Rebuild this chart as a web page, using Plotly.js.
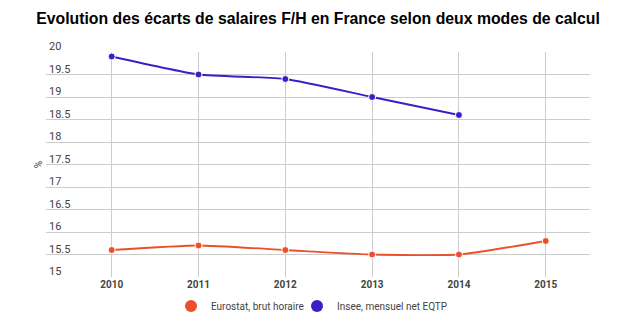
<!DOCTYPE html>
<html><head><meta charset="utf-8">
<script src="https://cdn.plot.ly/plotly-3.0.1.min.js"></script>
<style>html,body{margin:0;padding:0;background:#fff}#c{width:622px;height:330px}</style>
</head><body><div id="c"></div>
<script>
const years = [2010, 2011, 2012, 2013, 2014, 2015];
const eurostat = [15.6, 15.7, 15.6, 15.5, 15.5, 15.8];
const insee = [19.9, 19.5, 19.4, 19.0, 18.6, null];
const seriesNames = ['Eurostat, brut horaire', 'Insee, mensuel net EQTP'];
const colors = ['#ea5129', '#3a1ec6'];
const yTicks = [15, 15.5, 16, 16.5, 17, 17.5, 18, 18.5, 19, 19.5, 20];

const data = [];
[eurostat, insee].forEach((vals, i) => {
  data.push({
    x: years, y: vals, mode: 'lines+markers', showlegend: false,
    line: {color: colors[i], width: 1.8, shape: 'spline', smoothing: 0.5},
    marker: {color: colors[i], size: 7, line: {color: '#fff', width: 1}},
    hoverinfo: 'skip', connectgaps: false
  });
});
const legendIds = ['legend', 'legend2'];
seriesNames.forEach((n, i) => {
  data.push({x: [null], y: [null], mode: 'markers', name: n, legend: legendIds[i],
    marker: {color: colors[i], size: 12}});
});

const legendBase = {orientation: 'h', xanchor: 'left', y: -0.129, yanchor: 'middle',
  font: {size: 10, color: '#444'}, itemsizing: 'constant', bgcolor: 'rgba(0,0,0,0)'};

const layout = {
  width: 622, height: 330,
  margin: {l: 46, r: 32, t: 52, b: 53, autoexpand: false},
  paper_bgcolor: '#fff', plot_bgcolor: '#fff',
  font: {family: 'Roboto, Arial, sans-serif', color: '#444'},
  title: {text: '<b>Evolution des écarts de salaires F/H en France selon deux modes de calcul</b>',
    font: {family: 'Liberation Sans, Arial, sans-serif', size: 15.8, color: '#000'},
    x: 0.5, xanchor: 'center', y: 0.945, yanchor: 'middle', xref: 'paper'},
  xaxis: {range: [2009.243, 2015.51], tickvals: years, ticktext: years.map(String),
    showgrid: true, gridcolor: '#cccccc', gridwidth: 1, zeroline: false, showline: false,
    ticks: '', ticklabelstandoff: 0,
    tickfont: {size: 10, color: '#444', family: 'Roboto, Arial, sans-serif', weight: 'bold'}},
  yaxis: {range: [15, 20], tickvals: yTicks, ticktext: yTicks.map(String),
    showgrid: true, gridcolor: '#cccccc', gridwidth: 1, zeroline: false, showline: false,
    ticks: '', ticklabelposition: 'inside top', ticklabelstandoff: 0, ticklabeloverflow: 'allow',
    ticklabelshift: 2,
    tickfont: {size: 11, color: '#444'},
    title: {text: '%', font: {size: 10, color: '#444'}, standoff: 4}},
  legend: Object.assign({}, legendBase, {x: (171 - 46) / 544}),
  legend2: Object.assign({}, legendBase, {x: (297 - 46) / 544}),
  showlegend: true
};
Plotly.newPlot('c', data, layout, {displayModeBar: false, staticPlot: true});
</script></body></html>
